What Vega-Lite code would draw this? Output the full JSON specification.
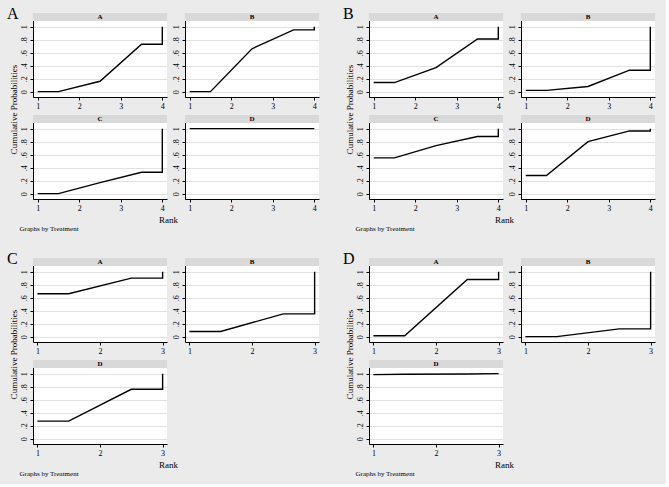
{
"$schema": "https://vega.github.io/schema/vega-lite/v6.json",
"background": "#ebebeb",
"padding": {"left": 7, "top": 5, "right": 11, "bottom": 8},
"datasets": {"cum": [
{"panel":"A","trt":"A","rank":1,"p":0,"o":1},{"panel":"A","trt":"A","rank":1.5,"p":0,"o":2},{"panel":"A","trt":"A","rank":2.5,"p":0.16,"o":3},{"panel":"A","trt":"A","rank":3.5,"p":0.73,"o":4},{"panel":"A","trt":"A","rank":4,"p":0.73,"o":5},{"panel":"A","trt":"A","rank":4,"p":1,"o":6},
{"panel":"A","trt":"B","rank":1,"p":0,"o":1},{"panel":"A","trt":"B","rank":1.5,"p":0,"o":2},{"panel":"A","trt":"B","rank":2.5,"p":0.66,"o":3},{"panel":"A","trt":"B","rank":3.5,"p":0.95,"o":4},{"panel":"A","trt":"B","rank":4,"p":0.95,"o":5},{"panel":"A","trt":"B","rank":4,"p":1,"o":6},
{"panel":"A","trt":"C","rank":1,"p":0,"o":1},{"panel":"A","trt":"C","rank":1.5,"p":0,"o":2},{"panel":"A","trt":"C","rank":2.5,"p":0.17,"o":3},{"panel":"A","trt":"C","rank":3.5,"p":0.33,"o":4},{"panel":"A","trt":"C","rank":4,"p":0.33,"o":5},{"panel":"A","trt":"C","rank":4,"p":1,"o":6},
{"panel":"A","trt":"D","rank":1,"p":1,"o":1},{"panel":"A","trt":"D","rank":1.5,"p":1,"o":2},{"panel":"A","trt":"D","rank":2.5,"p":1,"o":3},{"panel":"A","trt":"D","rank":3.5,"p":1,"o":4},{"panel":"A","trt":"D","rank":4,"p":1,"o":5},{"panel":"A","trt":"D","rank":4,"p":1,"o":6},
{"panel":"B","trt":"A","rank":1,"p":0.14,"o":1},{"panel":"B","trt":"A","rank":1.5,"p":0.14,"o":2},{"panel":"B","trt":"A","rank":2.5,"p":0.37,"o":3},{"panel":"B","trt":"A","rank":3.5,"p":0.81,"o":4},{"panel":"B","trt":"A","rank":4,"p":0.81,"o":5},{"panel":"B","trt":"A","rank":4,"p":1,"o":6},
{"panel":"B","trt":"B","rank":1,"p":0.02,"o":1},{"panel":"B","trt":"B","rank":1.5,"p":0.02,"o":2},{"panel":"B","trt":"B","rank":2.5,"p":0.08,"o":3},{"panel":"B","trt":"B","rank":3.5,"p":0.33,"o":4},{"panel":"B","trt":"B","rank":4,"p":0.33,"o":5},{"panel":"B","trt":"B","rank":4,"p":1,"o":6},
{"panel":"B","trt":"C","rank":1,"p":0.55,"o":1},{"panel":"B","trt":"C","rank":1.5,"p":0.55,"o":2},{"panel":"B","trt":"C","rank":2.5,"p":0.74,"o":3},{"panel":"B","trt":"C","rank":3.5,"p":0.88,"o":4},{"panel":"B","trt":"C","rank":4,"p":0.88,"o":5},{"panel":"B","trt":"C","rank":4,"p":1,"o":6},
{"panel":"B","trt":"D","rank":1,"p":0.28,"o":1},{"panel":"B","trt":"D","rank":1.5,"p":0.28,"o":2},{"panel":"B","trt":"D","rank":2.5,"p":0.8,"o":3},{"panel":"B","trt":"D","rank":3.5,"p":0.965,"o":4},{"panel":"B","trt":"D","rank":4,"p":0.965,"o":5},{"panel":"B","trt":"D","rank":4,"p":1,"o":6},
{"panel":"C","trt":"A","rank":1,"p":0.66,"o":1},{"panel":"C","trt":"A","rank":1.5,"p":0.66,"o":2},{"panel":"C","trt":"A","rank":2.5,"p":0.9,"o":3},{"panel":"C","trt":"A","rank":3,"p":0.9,"o":4},{"panel":"C","trt":"A","rank":3,"p":1,"o":5},
{"panel":"C","trt":"B","rank":1,"p":0.08,"o":1},{"panel":"C","trt":"B","rank":1.5,"p":0.08,"o":2},{"panel":"C","trt":"B","rank":2.5,"p":0.35,"o":3},{"panel":"C","trt":"B","rank":3,"p":0.35,"o":4},{"panel":"C","trt":"B","rank":3,"p":1,"o":5},
{"panel":"C","trt":"D","rank":1,"p":0.27,"o":1},{"panel":"C","trt":"D","rank":1.5,"p":0.27,"o":2},{"panel":"C","trt":"D","rank":2.5,"p":0.76,"o":3},{"panel":"C","trt":"D","rank":3,"p":0.76,"o":4},{"panel":"C","trt":"D","rank":3,"p":1,"o":5},
{"panel":"D","trt":"A","rank":1,"p":0.015,"o":1},{"panel":"D","trt":"A","rank":1.5,"p":0.015,"o":2},{"panel":"D","trt":"A","rank":2.5,"p":0.88,"o":3},{"panel":"D","trt":"A","rank":3,"p":0.88,"o":4},{"panel":"D","trt":"A","rank":3,"p":1,"o":5},
{"panel":"D","trt":"B","rank":1,"p":0,"o":1},{"panel":"D","trt":"B","rank":1.5,"p":0,"o":2},{"panel":"D","trt":"B","rank":2.5,"p":0.12,"o":3},{"panel":"D","trt":"B","rank":3,"p":0.12,"o":4},{"panel":"D","trt":"B","rank":3,"p":1,"o":5},
{"panel":"D","trt":"D","rank":1,"p":0.985,"o":1},{"panel":"D","trt":"D","rank":1.5,"p":0.99,"o":2},{"panel":"D","trt":"D","rank":2.5,"p":0.995,"o":3},{"panel":"D","trt":"D","rank":3,"p":1,"o":4},{"panel":"D","trt":"D","rank":3,"p":1,"o":5}
]},
"data": {"name": "cum"},
"columns": 2,
"spacing": {"column": 24, "row": 19},
"concat": [
{"columns": 2, "bounds": "flush", "spacing": {"row": 18, "column": 18}, "concat": [
 {"width":134,"height":84,
  "title":{"text":"A","anchor":"start","frame":"group","dx":-26,"dy":17,"offset":-5,"baseline":"alphabetic","fontSize":16,"font":"Liberation Serif","fontWeight":"normal","color":"#000"},
  "transform":[{"filter":"datum.panel=='A' && datum.trt=='A'"}],
  "layer":[
   {"mark":{"type":"line","color":"#000","strokeWidth":1.4},"encoding":{
     "x":{"field":"rank","type":"quantitative","scale":{"domain":[0.887,4.113],"nice":false,"zero":false},"axis":{"values":[1,2,3,4],"tickCount":10,"format":"d","grid":false,"labelFlush":false,"title":null}},
     "y":{"field":"p","type":"quantitative","scale":{"domain":[-0.082,1.21],"nice":false,"zero":false},"axis":{"values":[0,0.2,0.4,0.6,0.8,1],"tickCount":10,"grid":true,"labelAngle":-90,"labelAlign":"center","labelBaseline":"bottom","labelFlush":false,"labelOverlap":false,"labelExpr":"datum.value == 0 ? '0' : datum.value == 1 ? '1' : replace(format(datum.value, '.1f'), '0.', '.')","title":"Cumulative Probabilities","titleX":-20,"titleY":96,"titleAngle":270,"titleAlign":"center","titleBaseline":"middle"}},
     "order":{"field":"o","type":"quantitative"}}},
   {"transform":[{"filter":"datum.o==1"}],"mark":{"type":"rect","color":"#d9d9d9"},"encoding":{"x":{"datum":0.887},"x2":{"datum":4.113},"y":{"datum":1.088},"y2":{"datum":1.21}}},
   {"transform":[{"filter":"datum.o==1"}],"mark":{"type":"text","fontSize":7,"fontWeight":"bold","font":"Liberation Serif","color":"#000","baseline":"middle"},"encoding":{"x":{"datum":2.5},"y":{"datum":1.149},"text":{"field":"trt"}}}
  ]},
 {"width":134,"height":84,
  "transform":[{"filter":"datum.panel=='A' && datum.trt=='B'"}],
  "layer":[
   {"mark":{"type":"line","color":"#000","strokeWidth":1.4},"encoding":{
     "x":{"field":"rank","type":"quantitative","scale":{"domain":[0.887,4.113],"nice":false,"zero":false},"axis":{"values":[1,2,3,4],"tickCount":10,"format":"d","grid":false,"labelFlush":false,"title":null}},
     "y":{"field":"p","type":"quantitative","scale":{"domain":[-0.082,1.21],"nice":false,"zero":false},"axis":{"values":[0,0.2,0.4,0.6,0.8,1],"tickCount":10,"grid":true,"labelAngle":-90,"labelAlign":"center","labelBaseline":"bottom","labelFlush":false,"labelOverlap":false,"labelExpr":"datum.value == 0 ? '0' : datum.value == 1 ? '1' : replace(format(datum.value, '.1f'), '0.', '.')","title":null}},
     "order":{"field":"o","type":"quantitative"}}},
   {"transform":[{"filter":"datum.o==1"}],"mark":{"type":"rect","color":"#d9d9d9"},"encoding":{"x":{"datum":0.887},"x2":{"datum":4.113},"y":{"datum":1.088},"y2":{"datum":1.21}}},
   {"transform":[{"filter":"datum.o==1"}],"mark":{"type":"text","fontSize":7,"fontWeight":"bold","font":"Liberation Serif","color":"#000","baseline":"middle"},"encoding":{"x":{"datum":2.5},"y":{"datum":1.149},"text":{"field":"trt"}}}
  ]},
 {"width":134,"height":84,
  "transform":[{"filter":"datum.panel=='A' && datum.trt=='C'"}],
  "layer":[
   {"mark":{"type":"line","color":"#000","strokeWidth":1.4},"encoding":{
     "x":{"field":"rank","type":"quantitative","scale":{"domain":[0.887,4.113],"nice":false,"zero":false},"axis":{"values":[1,2,3,4],"tickCount":10,"format":"d","grid":false,"labelFlush":false,"title":"Rank","titleX":135,"titleY":20,"titleAlign":"center","titleBaseline":"middle"}},
     "y":{"field":"p","type":"quantitative","scale":{"domain":[-0.082,1.21],"nice":false,"zero":false},"axis":{"values":[0,0.2,0.4,0.6,0.8,1],"tickCount":10,"grid":true,"labelAngle":-90,"labelAlign":"center","labelBaseline":"bottom","labelFlush":false,"labelOverlap":false,"labelExpr":"datum.value == 0 ? '0' : datum.value == 1 ? '1' : replace(format(datum.value, '.1f'), '0.', '.')","title":"Graphs by Treatment","titleAngle":0,"titleX":-14,"titleY":113,"titleAlign":"left","titleBaseline":"middle","titleFontSize":7}},
     "order":{"field":"o","type":"quantitative"}}},
   {"transform":[{"filter":"datum.o==1"}],"mark":{"type":"rect","color":"#d9d9d9"},"encoding":{"x":{"datum":0.887},"x2":{"datum":4.113},"y":{"datum":1.088},"y2":{"datum":1.21}}},
   {"transform":[{"filter":"datum.o==1"}],"mark":{"type":"text","fontSize":7,"fontWeight":"bold","font":"Liberation Serif","color":"#000","baseline":"middle"},"encoding":{"x":{"datum":2.5},"y":{"datum":1.149},"text":{"field":"trt"}}}
  ]},
 {"width":134,"height":84,
  "transform":[{"filter":"datum.panel=='A' && datum.trt=='D'"}],
  "layer":[
   {"mark":{"type":"line","color":"#000","strokeWidth":1.4},"encoding":{
     "x":{"field":"rank","type":"quantitative","scale":{"domain":[0.887,4.113],"nice":false,"zero":false},"axis":{"values":[1,2,3,4],"tickCount":10,"format":"d","grid":false,"labelFlush":false,"title":null}},
     "y":{"field":"p","type":"quantitative","scale":{"domain":[-0.082,1.21],"nice":false,"zero":false},"axis":{"values":[0,0.2,0.4,0.6,0.8,1],"tickCount":10,"grid":true,"labelAngle":-90,"labelAlign":"center","labelBaseline":"bottom","labelFlush":false,"labelOverlap":false,"labelExpr":"datum.value == 0 ? '0' : datum.value == 1 ? '1' : replace(format(datum.value, '.1f'), '0.', '.')","title":null}},
     "order":{"field":"o","type":"quantitative"}}},
   {"transform":[{"filter":"datum.o==1"}],"mark":{"type":"rect","color":"#d9d9d9"},"encoding":{"x":{"datum":0.887},"x2":{"datum":4.113},"y":{"datum":1.088},"y2":{"datum":1.21}}},
   {"transform":[{"filter":"datum.o==1"}],"mark":{"type":"text","fontSize":7,"fontWeight":"bold","font":"Liberation Serif","color":"#000","baseline":"middle"},"encoding":{"x":{"datum":2.5},"y":{"datum":1.149},"text":{"field":"trt"}}}
  ]}
]},
{"columns": 2, "bounds": "flush", "spacing": {"row": 18, "column": 18}, "concat": [
 {"width":134,"height":84,
  "title":{"text":"B","anchor":"start","frame":"group","dx":-26,"dy":17,"offset":-5,"baseline":"alphabetic","fontSize":16,"font":"Liberation Serif","fontWeight":"normal","color":"#000"},
  "transform":[{"filter":"datum.panel=='B' && datum.trt=='A'"}],
  "layer":[
   {"mark":{"type":"line","color":"#000","strokeWidth":1.4},"encoding":{
     "x":{"field":"rank","type":"quantitative","scale":{"domain":[0.887,4.113],"nice":false,"zero":false},"axis":{"values":[1,2,3,4],"tickCount":10,"format":"d","grid":false,"labelFlush":false,"title":null}},
     "y":{"field":"p","type":"quantitative","scale":{"domain":[-0.082,1.21],"nice":false,"zero":false},"axis":{"values":[0,0.2,0.4,0.6,0.8,1],"tickCount":10,"grid":true,"labelAngle":-90,"labelAlign":"center","labelBaseline":"bottom","labelFlush":false,"labelOverlap":false,"labelExpr":"datum.value == 0 ? '0' : datum.value == 1 ? '1' : replace(format(datum.value, '.1f'), '0.', '.')","title":"Cumulative Probabilities","titleX":-20,"titleY":96,"titleAngle":270,"titleAlign":"center","titleBaseline":"middle"}},
     "order":{"field":"o","type":"quantitative"}}},
   {"transform":[{"filter":"datum.o==1"}],"mark":{"type":"rect","color":"#d9d9d9"},"encoding":{"x":{"datum":0.887},"x2":{"datum":4.113},"y":{"datum":1.088},"y2":{"datum":1.21}}},
   {"transform":[{"filter":"datum.o==1"}],"mark":{"type":"text","fontSize":7,"fontWeight":"bold","font":"Liberation Serif","color":"#000","baseline":"middle"},"encoding":{"x":{"datum":2.5},"y":{"datum":1.149},"text":{"field":"trt"}}}
  ]},
 {"width":134,"height":84,
  "transform":[{"filter":"datum.panel=='B' && datum.trt=='B'"}],
  "layer":[
   {"mark":{"type":"line","color":"#000","strokeWidth":1.4},"encoding":{
     "x":{"field":"rank","type":"quantitative","scale":{"domain":[0.887,4.113],"nice":false,"zero":false},"axis":{"values":[1,2,3,4],"tickCount":10,"format":"d","grid":false,"labelFlush":false,"title":null}},
     "y":{"field":"p","type":"quantitative","scale":{"domain":[-0.082,1.21],"nice":false,"zero":false},"axis":{"values":[0,0.2,0.4,0.6,0.8,1],"tickCount":10,"grid":true,"labelAngle":-90,"labelAlign":"center","labelBaseline":"bottom","labelFlush":false,"labelOverlap":false,"labelExpr":"datum.value == 0 ? '0' : datum.value == 1 ? '1' : replace(format(datum.value, '.1f'), '0.', '.')","title":null}},
     "order":{"field":"o","type":"quantitative"}}},
   {"transform":[{"filter":"datum.o==1"}],"mark":{"type":"rect","color":"#d9d9d9"},"encoding":{"x":{"datum":0.887},"x2":{"datum":4.113},"y":{"datum":1.088},"y2":{"datum":1.21}}},
   {"transform":[{"filter":"datum.o==1"}],"mark":{"type":"text","fontSize":7,"fontWeight":"bold","font":"Liberation Serif","color":"#000","baseline":"middle"},"encoding":{"x":{"datum":2.5},"y":{"datum":1.149},"text":{"field":"trt"}}}
  ]},
 {"width":134,"height":84,
  "transform":[{"filter":"datum.panel=='B' && datum.trt=='C'"}],
  "layer":[
   {"mark":{"type":"line","color":"#000","strokeWidth":1.4},"encoding":{
     "x":{"field":"rank","type":"quantitative","scale":{"domain":[0.887,4.113],"nice":false,"zero":false},"axis":{"values":[1,2,3,4],"tickCount":10,"format":"d","grid":false,"labelFlush":false,"title":"Rank","titleX":135,"titleY":20,"titleAlign":"center","titleBaseline":"middle"}},
     "y":{"field":"p","type":"quantitative","scale":{"domain":[-0.082,1.21],"nice":false,"zero":false},"axis":{"values":[0,0.2,0.4,0.6,0.8,1],"tickCount":10,"grid":true,"labelAngle":-90,"labelAlign":"center","labelBaseline":"bottom","labelFlush":false,"labelOverlap":false,"labelExpr":"datum.value == 0 ? '0' : datum.value == 1 ? '1' : replace(format(datum.value, '.1f'), '0.', '.')","title":"Graphs by Treatment","titleAngle":0,"titleX":-14,"titleY":113,"titleAlign":"left","titleBaseline":"middle","titleFontSize":7}},
     "order":{"field":"o","type":"quantitative"}}},
   {"transform":[{"filter":"datum.o==1"}],"mark":{"type":"rect","color":"#d9d9d9"},"encoding":{"x":{"datum":0.887},"x2":{"datum":4.113},"y":{"datum":1.088},"y2":{"datum":1.21}}},
   {"transform":[{"filter":"datum.o==1"}],"mark":{"type":"text","fontSize":7,"fontWeight":"bold","font":"Liberation Serif","color":"#000","baseline":"middle"},"encoding":{"x":{"datum":2.5},"y":{"datum":1.149},"text":{"field":"trt"}}}
  ]},
 {"width":134,"height":84,
  "transform":[{"filter":"datum.panel=='B' && datum.trt=='D'"}],
  "layer":[
   {"mark":{"type":"line","color":"#000","strokeWidth":1.4},"encoding":{
     "x":{"field":"rank","type":"quantitative","scale":{"domain":[0.887,4.113],"nice":false,"zero":false},"axis":{"values":[1,2,3,4],"tickCount":10,"format":"d","grid":false,"labelFlush":false,"title":null}},
     "y":{"field":"p","type":"quantitative","scale":{"domain":[-0.082,1.21],"nice":false,"zero":false},"axis":{"values":[0,0.2,0.4,0.6,0.8,1],"tickCount":10,"grid":true,"labelAngle":-90,"labelAlign":"center","labelBaseline":"bottom","labelFlush":false,"labelOverlap":false,"labelExpr":"datum.value == 0 ? '0' : datum.value == 1 ? '1' : replace(format(datum.value, '.1f'), '0.', '.')","title":null}},
     "order":{"field":"o","type":"quantitative"}}},
   {"transform":[{"filter":"datum.o==1"}],"mark":{"type":"rect","color":"#d9d9d9"},"encoding":{"x":{"datum":0.887},"x2":{"datum":4.113},"y":{"datum":1.088},"y2":{"datum":1.21}}},
   {"transform":[{"filter":"datum.o==1"}],"mark":{"type":"text","fontSize":7,"fontWeight":"bold","font":"Liberation Serif","color":"#000","baseline":"middle"},"encoding":{"x":{"datum":2.5},"y":{"datum":1.149},"text":{"field":"trt"}}}
  ]}
]},
{"columns": 2, "bounds": "flush", "spacing": {"row": 18, "column": 18}, "concat": [
 {"width":134,"height":84,
  "title":{"text":"C","anchor":"start","frame":"group","dx":-26,"dy":17,"offset":-5,"baseline":"alphabetic","fontSize":16,"font":"Liberation Serif","fontWeight":"normal","color":"#000"},
  "transform":[{"filter":"datum.panel=='C' && datum.trt=='A'"}],
  "layer":[
   {"mark":{"type":"line","color":"#000","strokeWidth":1.4},"encoding":{
     "x":{"field":"rank","type":"quantitative","scale":{"domain":[0.93,3.07],"nice":false,"zero":false},"axis":{"values":[1,2,3],"tickCount":10,"format":"d","grid":false,"labelFlush":false,"title":null}},
     "y":{"field":"p","type":"quantitative","scale":{"domain":[-0.082,1.21],"nice":false,"zero":false},"axis":{"values":[0,0.2,0.4,0.6,0.8,1],"tickCount":10,"grid":true,"labelAngle":-90,"labelAlign":"center","labelBaseline":"bottom","labelFlush":false,"labelOverlap":false,"labelExpr":"datum.value == 0 ? '0' : datum.value == 1 ? '1' : replace(format(datum.value, '.1f'), '0.', '.')","title":"Cumulative Probabilities","titleX":-20,"titleY":96,"titleAngle":270,"titleAlign":"center","titleBaseline":"middle"}},
     "order":{"field":"o","type":"quantitative"}}},
   {"transform":[{"filter":"datum.o==1"}],"mark":{"type":"rect","color":"#d9d9d9"},"encoding":{"x":{"datum":0.93},"x2":{"datum":3.07},"y":{"datum":1.088},"y2":{"datum":1.21}}},
   {"transform":[{"filter":"datum.o==1"}],"mark":{"type":"text","fontSize":7,"fontWeight":"bold","font":"Liberation Serif","color":"#000","baseline":"middle"},"encoding":{"x":{"datum":2},"y":{"datum":1.149},"text":{"field":"trt"}}}
  ]},
 {"width":134,"height":84,
  "transform":[{"filter":"datum.panel=='C' && datum.trt=='B'"}],
  "layer":[
   {"mark":{"type":"line","color":"#000","strokeWidth":1.4},"encoding":{
     "x":{"field":"rank","type":"quantitative","scale":{"domain":[0.93,3.07],"nice":false,"zero":false},"axis":{"values":[1,2,3],"tickCount":10,"format":"d","grid":false,"labelFlush":false,"title":null}},
     "y":{"field":"p","type":"quantitative","scale":{"domain":[-0.082,1.21],"nice":false,"zero":false},"axis":{"values":[0,0.2,0.4,0.6,0.8,1],"tickCount":10,"grid":true,"labelAngle":-90,"labelAlign":"center","labelBaseline":"bottom","labelFlush":false,"labelOverlap":false,"labelExpr":"datum.value == 0 ? '0' : datum.value == 1 ? '1' : replace(format(datum.value, '.1f'), '0.', '.')","title":null}},
     "order":{"field":"o","type":"quantitative"}}},
   {"transform":[{"filter":"datum.o==1"}],"mark":{"type":"rect","color":"#d9d9d9"},"encoding":{"x":{"datum":0.93},"x2":{"datum":3.07},"y":{"datum":1.088},"y2":{"datum":1.21}}},
   {"transform":[{"filter":"datum.o==1"}],"mark":{"type":"text","fontSize":7,"fontWeight":"bold","font":"Liberation Serif","color":"#000","baseline":"middle"},"encoding":{"x":{"datum":2},"y":{"datum":1.149},"text":{"field":"trt"}}}
  ]},
 {"width":134,"height":84,
  "transform":[{"filter":"datum.panel=='C' && datum.trt=='D'"}],
  "layer":[
   {"mark":{"type":"line","color":"#000","strokeWidth":1.4},"encoding":{
     "x":{"field":"rank","type":"quantitative","scale":{"domain":[0.93,3.07],"nice":false,"zero":false},"axis":{"values":[1,2,3],"tickCount":10,"format":"d","grid":false,"labelFlush":false,"title":"Rank","titleX":135,"titleY":20,"titleAlign":"center","titleBaseline":"middle"}},
     "y":{"field":"p","type":"quantitative","scale":{"domain":[-0.082,1.21],"nice":false,"zero":false},"axis":{"values":[0,0.2,0.4,0.6,0.8,1],"tickCount":10,"grid":true,"labelAngle":-90,"labelAlign":"center","labelBaseline":"bottom","labelFlush":false,"labelOverlap":false,"labelExpr":"datum.value == 0 ? '0' : datum.value == 1 ? '1' : replace(format(datum.value, '.1f'), '0.', '.')","title":"Graphs by Treatment","titleAngle":0,"titleX":-14,"titleY":113,"titleAlign":"left","titleBaseline":"middle","titleFontSize":7}},
     "order":{"field":"o","type":"quantitative"}}},
   {"transform":[{"filter":"datum.o==1"}],"mark":{"type":"rect","color":"#d9d9d9"},"encoding":{"x":{"datum":0.93},"x2":{"datum":3.07},"y":{"datum":1.088},"y2":{"datum":1.21}}},
   {"transform":[{"filter":"datum.o==1"}],"mark":{"type":"text","fontSize":7,"fontWeight":"bold","font":"Liberation Serif","color":"#000","baseline":"middle"},"encoding":{"x":{"datum":2},"y":{"datum":1.149},"text":{"field":"trt"}}}
  ]}
]},
{"columns": 2, "bounds": "flush", "spacing": {"row": 18, "column": 18}, "concat": [
 {"width":134,"height":84,
  "title":{"text":"D","anchor":"start","frame":"group","dx":-26,"dy":17,"offset":-5,"baseline":"alphabetic","fontSize":16,"font":"Liberation Serif","fontWeight":"normal","color":"#000"},
  "transform":[{"filter":"datum.panel=='D' && datum.trt=='A'"}],
  "layer":[
   {"mark":{"type":"line","color":"#000","strokeWidth":1.4},"encoding":{
     "x":{"field":"rank","type":"quantitative","scale":{"domain":[0.93,3.07],"nice":false,"zero":false},"axis":{"values":[1,2,3],"tickCount":10,"format":"d","grid":false,"labelFlush":false,"title":null}},
     "y":{"field":"p","type":"quantitative","scale":{"domain":[-0.082,1.21],"nice":false,"zero":false},"axis":{"values":[0,0.2,0.4,0.6,0.8,1],"tickCount":10,"grid":true,"labelAngle":-90,"labelAlign":"center","labelBaseline":"bottom","labelFlush":false,"labelOverlap":false,"labelExpr":"datum.value == 0 ? '0' : datum.value == 1 ? '1' : replace(format(datum.value, '.1f'), '0.', '.')","title":"Cumulative Probabilities","titleX":-20,"titleY":96,"titleAngle":270,"titleAlign":"center","titleBaseline":"middle"}},
     "order":{"field":"o","type":"quantitative"}}},
   {"transform":[{"filter":"datum.o==1"}],"mark":{"type":"rect","color":"#d9d9d9"},"encoding":{"x":{"datum":0.93},"x2":{"datum":3.07},"y":{"datum":1.088},"y2":{"datum":1.21}}},
   {"transform":[{"filter":"datum.o==1"}],"mark":{"type":"text","fontSize":7,"fontWeight":"bold","font":"Liberation Serif","color":"#000","baseline":"middle"},"encoding":{"x":{"datum":2},"y":{"datum":1.149},"text":{"field":"trt"}}}
  ]},
 {"width":134,"height":84,
  "transform":[{"filter":"datum.panel=='D' && datum.trt=='B'"}],
  "layer":[
   {"mark":{"type":"line","color":"#000","strokeWidth":1.4},"encoding":{
     "x":{"field":"rank","type":"quantitative","scale":{"domain":[0.93,3.07],"nice":false,"zero":false},"axis":{"values":[1,2,3],"tickCount":10,"format":"d","grid":false,"labelFlush":false,"title":null}},
     "y":{"field":"p","type":"quantitative","scale":{"domain":[-0.082,1.21],"nice":false,"zero":false},"axis":{"values":[0,0.2,0.4,0.6,0.8,1],"tickCount":10,"grid":true,"labelAngle":-90,"labelAlign":"center","labelBaseline":"bottom","labelFlush":false,"labelOverlap":false,"labelExpr":"datum.value == 0 ? '0' : datum.value == 1 ? '1' : replace(format(datum.value, '.1f'), '0.', '.')","title":null}},
     "order":{"field":"o","type":"quantitative"}}},
   {"transform":[{"filter":"datum.o==1"}],"mark":{"type":"rect","color":"#d9d9d9"},"encoding":{"x":{"datum":0.93},"x2":{"datum":3.07},"y":{"datum":1.088},"y2":{"datum":1.21}}},
   {"transform":[{"filter":"datum.o==1"}],"mark":{"type":"text","fontSize":7,"fontWeight":"bold","font":"Liberation Serif","color":"#000","baseline":"middle"},"encoding":{"x":{"datum":2},"y":{"datum":1.149},"text":{"field":"trt"}}}
  ]},
 {"width":134,"height":84,
  "transform":[{"filter":"datum.panel=='D' && datum.trt=='D'"}],
  "layer":[
   {"mark":{"type":"line","color":"#000","strokeWidth":1.4},"encoding":{
     "x":{"field":"rank","type":"quantitative","scale":{"domain":[0.93,3.07],"nice":false,"zero":false},"axis":{"values":[1,2,3],"tickCount":10,"format":"d","grid":false,"labelFlush":false,"title":"Rank","titleX":135,"titleY":20,"titleAlign":"center","titleBaseline":"middle"}},
     "y":{"field":"p","type":"quantitative","scale":{"domain":[-0.082,1.21],"nice":false,"zero":false},"axis":{"values":[0,0.2,0.4,0.6,0.8,1],"tickCount":10,"grid":true,"labelAngle":-90,"labelAlign":"center","labelBaseline":"bottom","labelFlush":false,"labelOverlap":false,"labelExpr":"datum.value == 0 ? '0' : datum.value == 1 ? '1' : replace(format(datum.value, '.1f'), '0.', '.')","title":"Graphs by Treatment","titleAngle":0,"titleX":-14,"titleY":113,"titleAlign":"left","titleBaseline":"middle","titleFontSize":7}},
     "order":{"field":"o","type":"quantitative"}}},
   {"transform":[{"filter":"datum.o==1"}],"mark":{"type":"rect","color":"#d9d9d9"},"encoding":{"x":{"datum":0.93},"x2":{"datum":3.07},"y":{"datum":1.088},"y2":{"datum":1.21}}},
   {"transform":[{"filter":"datum.o==1"}],"mark":{"type":"text","fontSize":7,"fontWeight":"bold","font":"Liberation Serif","color":"#000","baseline":"middle"},"encoding":{"x":{"datum":2},"y":{"datum":1.149},"text":{"field":"trt"}}}
  ]}
]}
],
"config": {
 "font": "Liberation Serif",
 "view": {"fill": "white", "stroke": null},
 "axis": {"domainColor": "#000", "domainWidth": 1, "tickColor": "#000", "tickSize": 3, "tickWidth": 1, "labelColor": "#000", "labelFont": "Liberation Serif", "labelFontSize": 8, "labelPadding": 2, "labelOverlap": false, "labelSeparation": 0, "titleFont": "Liberation Serif", "titleFontWeight": "normal", "titleColor": "#000", "titleFontSize": 9},
 "axisY": {"gridColor": "#e2e2e2", "gridWidth": 1, "labelOverlap": false}
}
}
